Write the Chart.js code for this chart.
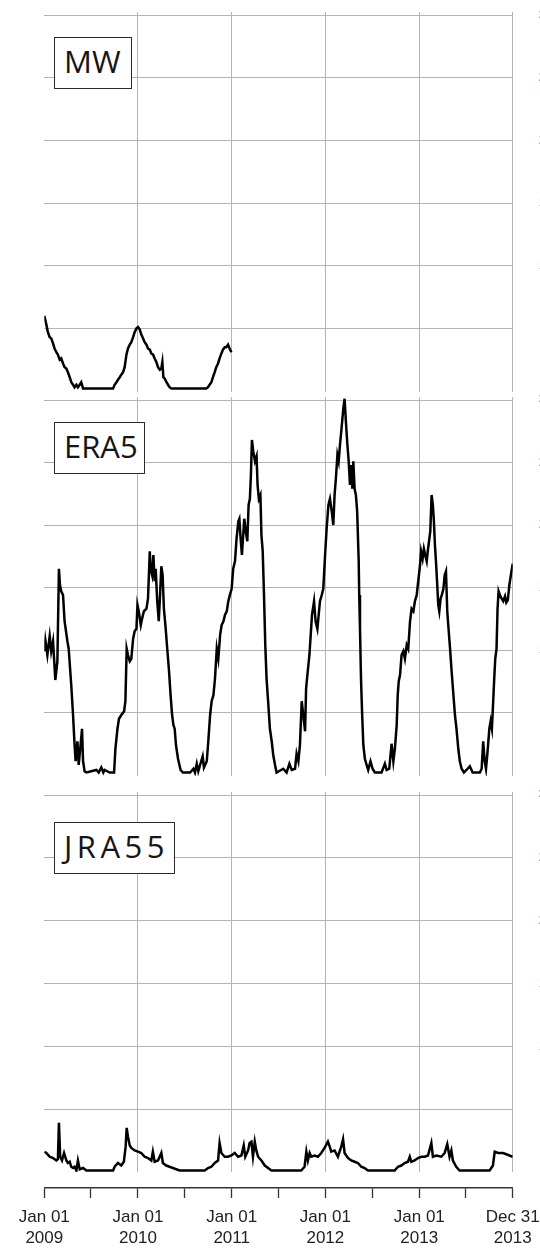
<!DOCTYPE html>
<html>
<head>
<meta charset="utf-8">
<title>MW / ERA5 / JRA55 2009-2013</title>
<script src="https://cdn.jsdelivr.net/npm/chart.js@4.4.1/dist/chart.umd.min.js"></script>
<style>
  html, body { margin: 0; padding: 0; background: #fff; overflow: hidden; }
  #page { position: relative; width: 540px; height: 1248px; overflow: hidden; }
  #page canvas { position: absolute; left: 0; }
  .tag {
    position: absolute;
    left: 54px;
    height: 50px;
    border: 1.5px solid #2a2a2a;
    background: #fff;
    font-family: 'Open Sans', sans-serif;
    font-size: 31px;
    line-height: 46px;
    color: #151515;
    padding-left: 9px;
    white-space: nowrap;
    z-index: 2;
  }
</style>
</head>
<body>
<div id="page">
  <canvas id="mw"></canvas>
  <canvas id="era5"></canvas>
  <canvas id="jra55"></canvas>
  <div class="tag" style="top:37px; width:67px;">MW</div>
  <div class="tag" style="top:422px; width:80px;">ERA5</div>
  <div class="tag" style="top:822px; width:110px; letter-spacing:4.5px;">JRA55</div>
</div>
<script>
// x runs in days counted from 2009-01-01
const yearTickDays = [0, 365, 730, 1095, 1461, 1825];
const yearTickLabels = [
    ['Jan 01', '2009'], ['Jan 01', '2010'], ['Jan 01', '2011'],
    ['Jan 01', '2012'], ['Jan 01', '2013'], ['Dec 31', '2013']
];
const midYearTickDays = [181, 546, 911, 1277, 1642];
const gridValues = [5, 10, 15, 20, 25, 30];
const sideTickValues = [0, 5, 10, 15, 20, 25, 30];

// MW (only 2009-2010)
const mwDays = [0, 8, 14, 21, 27, 34, 40, 47, 53, 60, 66, 73, 79, 86, 92, 99, 105, 112, 118, 125,
    131, 138, 144, 151, 200, 268, 274, 281, 287, 294, 300, 307, 313, 320, 326, 333, 339, 346, 352, 359,
    365, 372, 378, 385, 391, 398, 404, 411, 417, 424, 430, 437, 443, 450, 456, 460, 464, 469, 476, 482,
    488, 495, 560, 631, 638, 644, 651, 657, 664, 670, 677, 683, 690, 696, 703, 709, 716, 722, 729];
const mwValues = [6.0, 5.3, 4.7, 4.3, 4.2, 3.8, 3.4, 3.1, 2.9, 2.5, 2.6, 2.2, 1.9, 1.8, 1.5, 1.1, 0.7, 0.5, 0.3, 0.5,
    0.3, 0.5, 0.7, 0.2, 0.2, 0.2, 0.5, 0.7, 0.9, 1.1, 1.3, 1.5, 1.9, 2.9, 3.4, 3.7, 3.9, 4.3, 4.7, 5.0,
    5.1, 4.9, 4.5, 4.2, 3.9, 3.7, 3.4, 3.3, 3.0, 2.9, 2.6, 2.3, 1.9, 1.7, 1.8, 2.3, 1.1, 1.0, 0.7, 0.5,
    0.3, 0.2, 0.2, 0.2, 0.3, 0.5, 0.7, 1.1, 1.5, 1.9, 2.2, 2.6, 3.0, 3.3, 3.5, 3.5, 3.7, 3.4, 3.1];

// ERA5
const era5Days = [0, 4, 12, 21, 27, 34, 43, 51, 57, 61, 66, 73, 79, 90, 95, 105, 112, 118, 122, 129,
    134, 140, 147, 151, 157, 164, 203, 212, 222, 230, 235, 255, 272, 277, 285, 291, 300, 311, 316, 321,
    326, 333, 339, 346, 352, 359, 363, 368, 376, 381, 388, 398, 404, 411, 414, 420, 425, 430, 434, 440,
    446, 451, 456, 461, 466, 473, 479, 486, 492, 498, 503, 508, 513, 521, 531, 540, 568, 581, 587, 594,
    600, 607, 617, 622, 633, 639, 646, 652, 659, 665, 672, 678, 685, 691, 698, 704, 711, 717, 723, 730,
    736, 743, 749, 756, 760, 765, 770, 775, 779, 785, 791, 796, 801, 805, 809, 814, 821, 827, 831, 836,
    842, 846, 851, 856, 861, 866, 873, 879, 886, 892, 899, 905, 931, 944, 955, 964, 977, 983, 990, 996,
    1003, 1009, 1016, 1020, 1025, 1033, 1038, 1043, 1051, 1057, 1064, 1069, 1074, 1081, 1087, 1094, 1100, 1107, 1113, 1120,
    1126, 1131, 1136, 1142, 1147, 1152, 1158, 1165, 1170, 1175, 1181, 1186, 1191, 1195, 1200, 1204, 1209, 1214, 1219, 1225,
    1227, 1230, 1234, 1238, 1243, 1249, 1256, 1262, 1271, 1279, 1288, 1314, 1327, 1334, 1344, 1353, 1360, 1366, 1373, 1377,
    1381, 1386, 1392, 1399, 1405, 1412, 1418, 1425, 1431, 1438, 1444, 1451, 1457, 1464, 1468, 1474, 1479, 1484, 1490, 1494,
    1499, 1504, 1509, 1514, 1518, 1522, 1526, 1531, 1535, 1539, 1544, 1549, 1555, 1560, 1565, 1570, 1575, 1581, 1587, 1594,
    1600, 1606, 1613, 1619, 1626, 1635, 1645, 1658, 1669, 1697, 1704, 1710, 1716, 1721, 1726, 1734, 1739, 1744, 1749, 1753,
    1757, 1762, 1766, 1770, 1775, 1782, 1788, 1795, 1800, 1806, 1812, 1818, 1825];
const era5Values = [9.9, 10.8, 9.6, 11.1, 9.9, 10.7, 7.6, 9.1, 16.5, 15.2, 14.7, 14.4, 12.3, 10.7, 10.1, 7.2, 4.8, 2.4, 1.1, 2.7,
    0.8, 2.1, 3.7, 1.1, 0.3, 0.2, 0.4, 0.2, 0.6, 0.2, 0.4, 0.2, 0.2, 2.1, 3.7, 4.5, 4.8, 5.1, 5.9, 10.1,
    9.6, 9.1, 9.3, 10.9, 11.5, 11.7, 13.6, 13.1, 12.0, 12.5, 13.1, 13.3, 14.1, 17.9, 16.5, 16.0, 17.6, 15.5, 16.5, 13.9,
    12.3, 14.4, 16.7, 16.0, 13.3, 11.7, 10.1, 8.3, 6.4, 4.8, 4.0, 3.7, 2.4, 1.3, 0.4, 0.2, 0.2, 0.5, 0.2, 0.9,
    0.3, 0.8, 1.5, 0.6, 1.1, 2.7, 4.8, 5.9, 6.4, 7.7, 10.1, 9.3, 11.2, 12.0, 12.3, 12.8, 13.1, 13.9, 14.4, 14.9,
    16.5, 17.1, 18.9, 20.3, 20.5, 18.9, 17.6, 19.2, 20.5, 19.5, 18.7, 21.6, 22.1, 24.0, 26.8, 25.9, 25.1, 25.5, 23.2, 22.1,
    22.4, 19.2, 17.9, 14.4, 10.4, 7.7, 5.6, 3.7, 2.7, 1.6, 0.8, 0.2, 0.5, 0.2, 0.9, 0.4, 0.5, 1.7, 1.1, 2.4,
    5.9, 4.8, 3.5, 6.9, 8.0, 9.6, 11.2, 12.8, 13.9, 12.3, 11.7, 12.8, 13.9, 14.4, 14.9, 17.6, 19.7, 21.6, 22.1, 21.1,
    20.0, 22.4, 23.7, 25.6, 25.1, 26.4, 27.7, 29.3, 30.1, 28.3, 26.4, 25.1, 23.2, 24.8, 22.9, 25.1, 22.9, 22.4, 21.1, 17.1,
    14.4, 11.7, 7.7, 5.1, 2.4, 1.3, 0.8, 0.4, 1.1, 0.5, 0.2, 0.2, 0.9, 0.4, 0.5, 2.5, 1.1, 2.1, 4.0, 6.4,
    7.5, 8.0, 9.6, 9.9, 9.3, 10.4, 10.1, 12.3, 13.3, 13.1, 13.9, 14.4, 15.5, 16.8, 17.9, 17.3, 18.1, 17.6, 17.1, 17.9,
    18.7, 19.5, 22.4, 21.6, 20.3, 18.4, 17.1, 15.2, 13.6, 13.1, 14.1, 14.4, 14.9, 16.0, 16.3, 13.1, 11.7, 10.1, 8.3, 6.4,
    4.8, 3.7, 2.1, 1.1, 0.5, 0.2, 0.4, 0.7, 0.2, 0.2, 0.5, 2.7, 1.1, 0.5, 1.6, 3.7, 4.3, 3.7, 5.9, 7.7,
    9.3, 10.1, 13.3, 14.7, 14.4, 14.1, 13.9, 14.3, 13.8, 14.0, 15.2, 16.0, 16.9];

// JRA55
const jra55Days = [0, 8, 21, 34, 47, 53, 57, 62, 69, 77, 86, 92, 99, 105, 112, 118, 125, 131, 138, 151,
    164, 268, 274, 287, 300, 310, 317, 321, 326, 333, 339, 352, 365, 378, 391, 404, 417, 423, 430, 443,
    456, 462, 475, 488, 501, 514, 527, 625, 638, 651, 664, 677, 683, 690, 703, 716, 729, 742, 755, 768,
    777, 783, 794, 800, 807, 813, 820, 826, 833, 846, 859, 872, 885, 1001, 1014, 1021, 1027, 1034, 1040, 1053,
    1066, 1079, 1092, 1105, 1112, 1118, 1131, 1144, 1157, 1164, 1170, 1183, 1196, 1209, 1222, 1235, 1248, 1261, 1365, 1378,
    1391, 1404, 1417, 1424, 1430, 1443, 1456, 1469, 1482, 1495, 1508, 1514, 1527, 1547, 1560, 1570, 1579, 1586, 1592, 1605,
    1618, 1735, 1748, 1755, 1768, 1787, 1800, 1812, 1825];
const jra55Values = [1.6, 1.5, 1.2, 1.1, 0.9, 1.0, 3.9, 1.2, 0.9, 1.5, 0.9, 0.7, 0.8, 0.4, 0.3, 0.4, 0.1, 0.9, 0.2, 0.3,
    0.1, 0.1, 0.4, 0.7, 0.5, 0.8, 2.0, 3.5, 2.8, 2.1, 1.9, 1.7, 1.6, 1.5, 1.2, 1.1, 0.9, 1.6, 0.8, 0.9,
    1.5, 0.7, 0.5, 0.4, 0.3, 0.2, 0.1, 0.1, 0.3, 0.4, 0.7, 0.9, 2.3, 1.5, 1.2, 1.2, 1.3, 1.5, 1.2, 1.3,
    2.1, 1.2, 1.7, 2.3, 2.4, 1.2, 2.4, 1.7, 1.2, 0.9, 0.5, 0.3, 0.1, 0.1, 0.4, 1.6, 0.9, 1.5, 1.2, 1.3,
    1.2, 1.5, 1.9, 2.4, 2.0, 1.6, 1.7, 1.2, 2.0, 2.6, 1.5, 1.1, 0.9, 0.8, 0.7, 0.4, 0.3, 0.1, 0.1, 0.4,
    0.5, 0.7, 0.8, 1.2, 0.8, 0.9, 1.1, 1.2, 1.2, 1.3, 2.3, 1.2, 1.3, 1.2, 1.5, 2.2, 1.2, 1.7, 0.9, 0.4,
    0.1, 0.1, 0.5, 1.6, 1.5, 1.5, 1.4, 1.3, 1.2];

const allTickDays = yearTickDays.concat(midYearTickDays).sort((a, b) => a - b);

const GRID = '#b4b4b4';
const SIDE = '#b0602a';
const PAD = 8;
const PLOT_LEFT = 44.3;
const PLOT_RIGHT = 512.7;
const CANVAS_W = 552;
const AXIS_GAP = 16;

Chart.defaults.font.family = "'Liberation Sans', Arial, sans-serif";

// one chart per panel, stacked down the page
const panels = [
    { id: 'mw', top: 4, height: 396, areaHeight: 380, y30: 15.3, y0: 391, days: mwDays, values: mwValues, axis: false },
    { id: 'era5', top: 389, height: 395, areaHeight: 379, y30: 400, y0: 775, days: era5Days, values: era5Values, axis: false },
    { id: 'jra55', top: 784, height: 464, areaHeight: 380, y30: 795, y0: 1171.8, days: jra55Days, values: jra55Values, axis: true }
];

function buildPanel(p) {
    const canvas = document.getElementById(p.id);
    canvas.width = CANVAS_W;
    canvas.height = p.height;
    canvas.style.top = p.top + 'px';

    // value range so that 0 and 30 land on the panel's grid
    const areaTop = p.top + PAD;
    const areaBottom = areaTop + p.areaHeight;
    const k = (p.y0 - p.y30) / 30;
    const yMax = 30 + (p.y30 - areaTop) / k;
    const yMin = -(areaBottom - p.y0) / k;

    const scales = {
        x: {
            type: 'linear', min: 0, max: 1825, position: 'bottom', weight: 0,
            afterBuildTicks: s => { s.ticks = yearTickDays.slice(1).map(v => ({ value: v })); },
            ticks: { display: false },
            grid: { color: GRID, lineWidth: 1, drawTicks: false },
            border: { display: false },
            afterFit: s => { s.height = p.axis ? AXIS_GAP : 0; }
        },
        y: {
            type: 'linear', min: yMin, max: yMax, position: 'left',
            afterBuildTicks: s => { s.ticks = gridValues.map(v => ({ value: v })); },
            ticks: { display: false },
            grid: { color: GRID, lineWidth: 1, drawTicks: false },
            border: { display: false },
            afterFit: s => { s.width = 0; }
        },
        // right-hand labels, pushed out past the page edge by an invisible tick mark
        side: {
            type: 'linear', min: yMin, max: yMax, position: 'right',
            afterBuildTicks: s => { s.ticks = sideTickValues.map(v => ({ value: v })); },
            ticks: { color: SIDE, font: { size: 12 }, padding: 0, crossAlign: 'far', autoSkip: false },
            grid: { drawOnChartArea: false, drawTicks: true, tickLength: 22, tickColor: 'rgba(0,0,0,0)' },
            border: { display: false },
            afterFit: s => { s.width = CANVAS_W - PLOT_RIGHT; }
        }
    };

    if (p.axis) {
        scales.xb = {
            type: 'linear', min: 0, max: 1825, position: 'bottom', weight: 1,
            afterBuildTicks: s => { s.ticks = allTickDays.map(v => ({ value: v })); },
            ticks: {
                autoSkip: false, maxRotation: 0, minRotation: 0, padding: 9,
                color: '#222', font: { size: 17, lineHeight: 1.24 },
                callback: v => {
                    const i = yearTickDays.indexOf(v);
                    return i >= 0 ? yearTickLabels[i] : '';
                }
            },
            grid: { drawOnChartArea: false, drawTicks: true, tickLength: 10, tickColor: '#333', tickWidth: 1.3 },
            border: { display: true, color: '#333', width: 1.5 },
            afterFit: s => { s.height = p.height - PAD - p.areaHeight - AXIS_GAP; }
        };
    }

    return new Chart(canvas.getContext('2d'), {
        type: 'line',
        data: {
            datasets: [{
                data: p.days.map((d, i) => ({ x: d, y: p.values[i] })),
                borderColor: '#000',
                borderWidth: 2.5,
                pointRadius: 0,
                tension: 0,
                fill: false,
                xAxisID: 'x',
                yAxisID: 'y'
            }]
        },
        options: {
            responsive: false,
            animation: false,
            devicePixelRatio: 1,
            layout: { padding: { left: PLOT_LEFT, right: 0, top: PAD, bottom: p.axis ? 0 : PAD } },
            plugins: { legend: { display: false }, tooltip: { enabled: false } },
            scales: scales
        }
    });
}

panels.forEach(buildPanel);
</script>
</body>
</html>
